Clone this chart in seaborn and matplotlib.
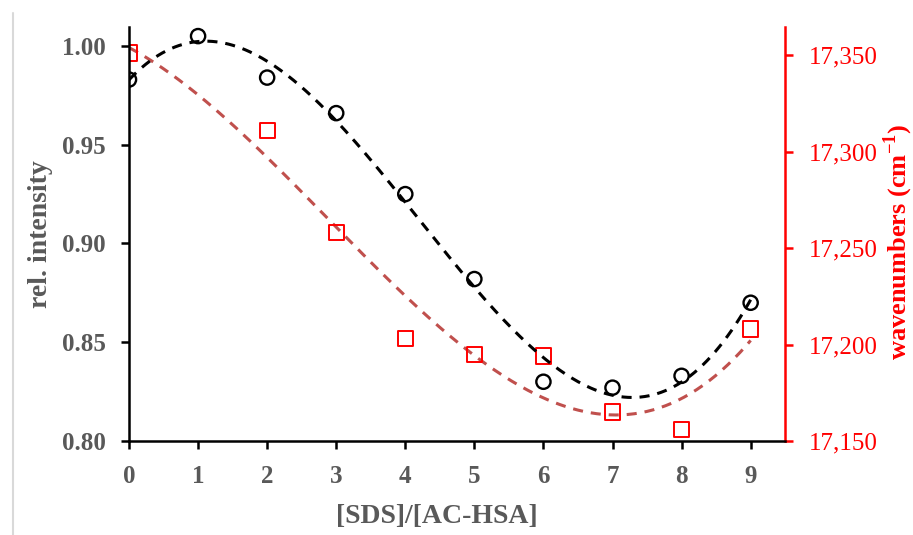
import numpy as np
import pandas as pd
import matplotlib
matplotlib.use("Agg")
import matplotlib.pyplot as plt
from matplotlib.lines import Line2D
import seaborn as sns

# relative fluorescence intensity vs. SDS / AC-HSA molar ratio (left axis)
ratio_int = [0, 1, 2, 3, 4, 5, 6, 7, 8, 9]
rel_intensity = [0.983, 1.005, 0.984, 0.966, 0.925, 0.882, 0.830, 0.827, 0.833, 0.870]

# emission maximum in wavenumbers (right axis)
ratio_wn = [0, 2, 3, 4, 5, 6, 7, 8, 9]
wavenumbers = [17351, 17311, 17258, 17203, 17195, 17194, 17165, 17156, 17208]

x_ticks = [0, 1, 2, 3, 4, 5, 6, 7, 8, 9]
left_ticks = [0.80, 0.85, 0.90, 0.95, 1.00]
right_ticks = [17150, 17200, 17250, 17300, 17350]

sns.set_theme(style="white")
plt.rcParams["font.family"] = ["Liberation Serif", "DejaVu Serif"]
plt.rcParams["mathtext.fontset"] = "custom"
plt.rcParams["mathtext.rm"] = "Liberation Serif"
plt.rcParams["mathtext.bf"] = "Liberation Serif:bold"

GREY = "#595959"
RED = "#ff0000"
TREND_RED = "#c0504d"

df_int = pd.DataFrame({"ratio": ratio_int, "value": rel_intensity})
df_wn = pd.DataFrame({"ratio": ratio_wn, "value": wavenumbers})

fig = plt.figure(figsize=(9.13, 5.35), dpi=100)
ax = fig.add_axes([0.1413, 0.1757, 0.7187, 0.7738])
ax2 = ax.twinx()

# third-order polynomial trend lines through each series
xs = np.linspace(0, 9, 300)
trend_int = np.polyval(np.polyfit(df_int["ratio"], df_int["value"], 3), xs)
trend_wn = np.polyval(np.polyfit(df_wn["ratio"], df_wn["value"], 3), xs)

sns.lineplot(x=xs, y=trend_wn, ax=ax2, color=TREND_RED, lw=2.2, zorder=3)
ax2.lines[-1].set_dashes([3.3, 2.6])
sns.scatterplot(data=df_wn, x="ratio", y="value", ax=ax2, marker="s", s=120,
                facecolor="none", edgecolor=RED, linewidth=1.4, zorder=4)

sns.lineplot(x=xs, y=trend_int, ax=ax, color="black", lw=2.2, zorder=3)
ax.lines[-1].set_dashes([3.3, 2.6])
sns.scatterplot(data=df_int, x="ratio", y="value", ax=ax, marker="o", s=105,
                facecolor="none", edgecolor="black", linewidth=1.7, zorder=4)

ax.set_xlim(0, 9.5)
ax.set_ylim(0.80, 1.0096)
ax2.set_ylim(17150, 17364.5)

ax.set_xticks(x_ticks)
ax.set_xticklabels([str(v) for v in x_ticks])
ax.set_yticks(left_ticks)
ax.set_yticklabels([f"{v:.2f}" for v in left_ticks])
ax2.set_yticks(right_ticks)
ax2.set_yticklabels([f"{v:,}" for v in right_ticks])

for a in (ax, ax2):
    a.spines["top"].set_visible(False)
    a.grid(False)
ax.set_zorder(ax2.get_zorder() + 1)
ax.patch.set_visible(False)

ax.spines["right"].set_visible(False)
for side in ("left", "bottom"):
    ax.spines[side].set_color("black")
    ax.spines[side].set_linewidth(1.8)
ax2.spines["left"].set_visible(False)
ax2.spines["bottom"].set_visible(False)
ax2.spines["right"].set_color(RED)
ax2.spines["right"].set_linewidth(1.8)

ax.tick_params(axis="x", direction="out", length=6, width=1.8, color="black",
               labelsize=18, labelcolor=GREY, pad=11, bottom=True)
ax.tick_params(axis="y", direction="out", length=6, width=1.8, color="black",
               labelsize=18, labelcolor=GREY, pad=11, left=True)
ax2.tick_params(axis="y", direction="out", length=6, width=1.8, color=RED,
                labelsize=18, labelcolor=RED, pad=11, right=True)
for t in ax.get_xticklabels() + ax.get_yticklabels():
    t.set_fontweight("bold")

ax.set_xlabel("[SDS]/[AC-HSA]", fontsize=20, fontweight="bold", color=GREY)
ax.xaxis.set_label_coords(0.469, -0.182)
ax.xaxis.label.set_verticalalignment("center")
ax.set_ylabel("rel. intensity", fontsize=20, fontweight="bold", color=GREY, labelpad=6)
ax2.set_ylabel(r"wavenumbers (cm$^{\mathbf{-1}}$)", fontsize=19, fontweight="bold",
               color=RED)
ax2.yaxis.set_label_coords(1.172, 0.48)
ax2.yaxis.label.set_verticalalignment("center")
ax2.yaxis.label.set_horizontalalignment("center")

# thin frame edge at the left of the figure
fig.add_artist(Line2D([0.0142, 0.0142], [0.0, 0.975], transform=fig.transFigure,
                      color="#d9d9d9", lw=1.5))

fig.savefig("out.png", dpi=100)
